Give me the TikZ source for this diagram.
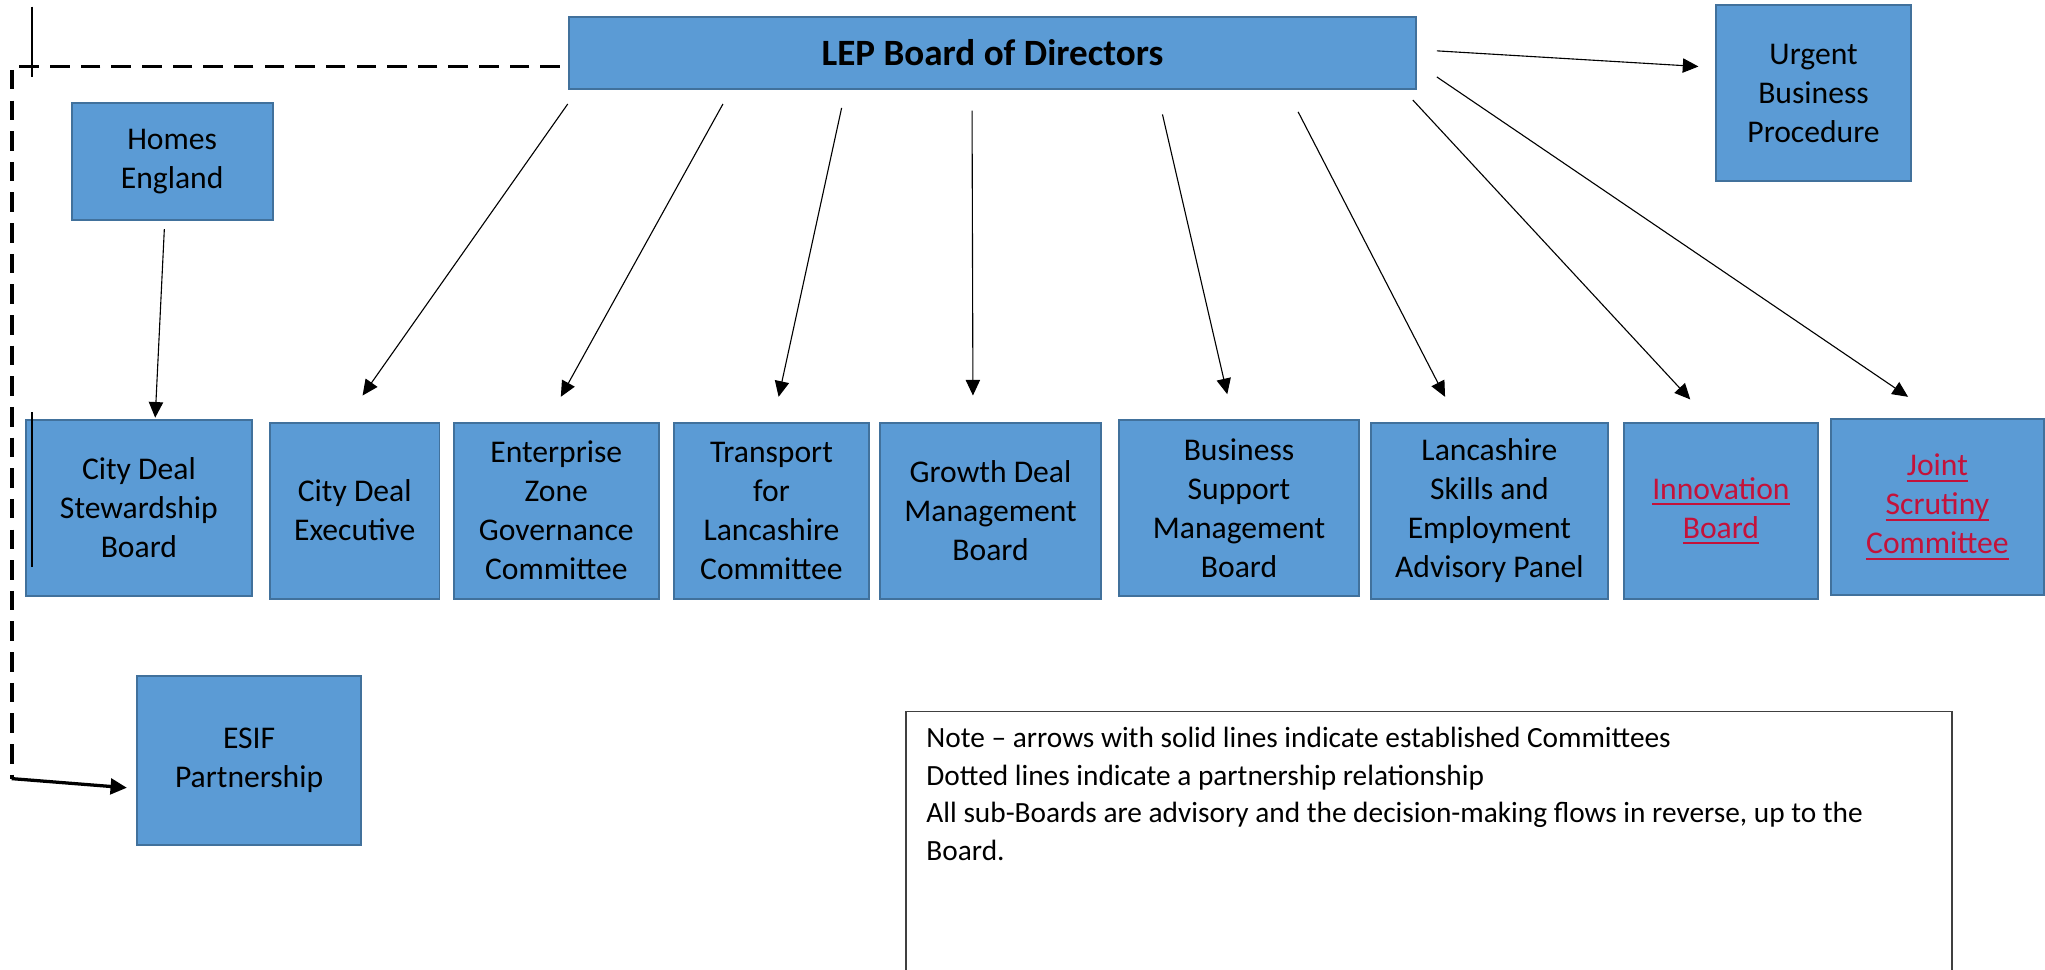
\documentclass[tikz,border=0pt]{standalone}
\usepackage{fontspec}
\setmainfont{Carlito}
\usetikzlibrary{arrows.meta}
\definecolor{boxblue}{RGB}{91,155,213}
\definecolor{boxedge}{RGB}{65,113,156}
\definecolor{linkred}{RGB}{196,18,58}
\newcommand{\redlink}[1]{{\color{linkred}\setbox0\hbox{#1}\rlap{\rule[-2.6pt]{\wd0}{0.75pt}}\box0}}

\begin{document}
\begin{tikzpicture}[x=0.02cm, y=-0.02cm,
   board/.style={draw=boxedge, fill=boxblue, line width=0.03cm, align=center,
      inner sep=0pt, font=\fontsize{13.8}{17}\selectfont},
   arr/.style={line width=0.017cm, -{Triangle[length=0.24cm,width=0.22cm]}},
   dashline/.style={line width=0.06cm, dash pattern=on 0.3cm off 0.17cm},
   partarr/.style={line width=0.05cm, -{Triangle[length=0.25cm,width=0.24cm]}}
]
   \useasboundingbox (0,0) rectangle (1568,743);
   \clip (0,0) rectangle (1568,743);

   % top level
   \node[board, minimum width=13cm, minimum height=1.1cm,
      font=\fontsize{16.2}{19}\selectfont\bfseries] (lep) at (761,40.5) {LEP Board of Directors};
   \node[board, minimum width=2.98cm, minimum height=2.7cm] (urgent) at (1390.5,71.5) {Urgent\\Business\\Procedure};
   \node[board, minimum width=3.08cm, minimum height=1.8cm] (homes) at (132,124) {Homes\\England};

   % committees
   \node[board, minimum width=3.46cm, minimum height=2.7cm] (cds) at (106.5,389.5) {City Deal\\Stewardship\\Board};
   \node[board, minimum width=2.6cm, minimum height=2.7cm] (cde) at (272,391.5) {City Deal\\Executive};
   \node[board, minimum width=3.14cm, minimum height=2.7cm] (ezg) at (426.5,391.5) {Enterprise\\Zone\\Governance\\Committee};
   \node[board, minimum width=2.98cm, minimum height=2.7cm] (tfl) at (591.5,391.5) {Transport\\for\\Lancashire\\Committee};
   \node[board, minimum width=3.38cm, minimum height=2.7cm] (gdm) at (759.5,391.5) {Growth Deal\\Management\\Board};
   \node[board, minimum width=3.68cm, minimum height=2.7cm] (bsm) at (950,389.5) {Business\\Support\\Management\\Board};
   \node[board, minimum width=3.64cm, minimum height=2.7cm] (lse) at (1142,391.5) {Lancashire\\Skills and\\Employment\\Advisory Panel};
   \node[board, minimum width=2.98cm, minimum height=2.7cm] (inb) at (1319.5,391.5) {\redlink{Innovation}\\\redlink{Board}};
   \node[board, minimum width=3.26cm, minimum height=2.7cm] (jsc) at (1485.5,388.5) {\redlink{Joint}\\\redlink{Scrutiny}\\\redlink{Committee}};

   \node[board, minimum width=3.44cm, minimum height=2.6cm] (esif) at (191,583) {ESIF\\Partnership};

   % note
   \node[draw=black!75, line width=0.025cm, minimum width=16.04cm, minimum height=4.5cm,
      anchor=north west, inner sep=0pt] (note) at (694,545) {};
   \node[anchor=north west, inner sep=0pt, align=left, font=\fontsize{12.8}{16.5}\selectfont]
      (notetext) at (710,557) {Note – arrows with solid lines indicate established Committees\\
      Dotted lines indicate a partnership relationship\\
      All sub-Boards are advisory and the decision-making flows in reverse, up to the\\
      Board.};

   % arrows
   \foreach \tgt/\sx/\sy/\ex/\ey in {cde/0/11/6/-20, ezg/119/11/3.5/-19, tfl/210/14/5.5/-19,
         gdm/310/16/-13.5/-20, bsm/456/19/-9/-19, lse/560/17/-34/-19, inb/648/8/-23.5/-17}
      \draw[arr] ([shift={(\sx,\sy)}]lep.south west) -- ([shift={(\ex,\ey)}]\tgt.north);
   \draw[arr] ([shift={(15,18.5)}]lep.east) -- ([shift={(-22.5,-16)}]jsc.north);
   \draw[arr] ([shift={(15,-1.5)}]lep.east) -- ([shift={(-13,-20.5)}]urgent.west);
   \draw[arr] ([shift={(-6,6)}]homes.south) -- ([shift={(12.5,-1)}]cds.north);

   % partnership
   \coordinate (bend) at (9,597);
   \draw[dashline] ([shift={(-6,10.5)}]lep.west) -| (bend);
   \draw[partarr] (bend) -- ([shift={(-7,21)}]esif.west);

   \draw[line width=0.025cm] (24.5,5) -- (24.5,59);
   \draw[line width=0.025cm] (24.5,316) -- (24.5,435);
\end{tikzpicture}
\end{document}
